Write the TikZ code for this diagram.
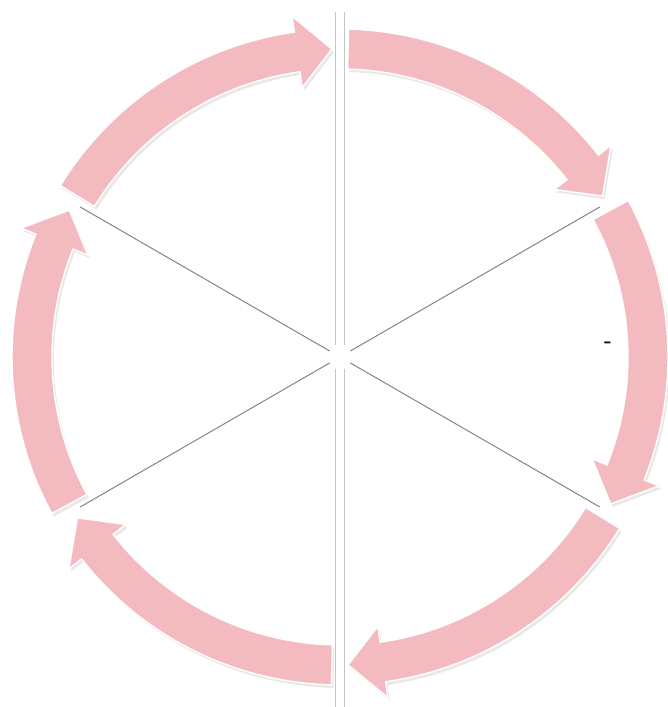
\documentclass[tikz,border=0pt]{standalone}
\usepackage{tikz}
\usetikzlibrary{calc}
\definecolor{ink}      {HTML}{1B1418}
\definecolor{blush}    {HTML}{F3BBC0}
\definecolor{rule}     {HTML}{6E6E6E}
\tikzset{
  % --- ring of stage arrows
  cyc/.style      = {fill=blush, draw=white, line width=1.4pt, line join=miter},
  cycshade/.style = {fill=black!30, opacity=0.3},
  % --- spokes
  spoke/.style    = {draw=rule!85, line width=1pt},
  axisline/.style = {draw=rule!40, line width=0.7pt, double=white, double distance=8pt},
  dashlbl/.style  = {font=\bfseries\huge, text=ink, inner sep=0pt},
}
\begin{document}
\begin{tikzpicture}[x=1pt,y=1pt]
  \useasboundingbox (0,0) rectangle (668,707);
  \coordinate (c) at (340,350);

  % spokes between the six stages
  \foreach \a in {30,150,210,330}
    \draw[spoke] ($(c)+(\a:12)$) -- ($(c)+(\a:300)$);
  \draw[axisline] ($(c)+(0,12)$) -- ($(c)+(0,345)$);
  \draw[axisline] ($(c)+(0,-12)$) -- ($(c)+(0,-350)$);

  % six curved block arrows, clockwise
  \foreach \s in {150,90,30,-30,-90,-150}{
    \pgfmathsetmacro{\ea}{\s-1.5}     % tail
    \pgfmathsetmacro{\eb}{\s-52}      % head base
    \pgfmathsetmacro{\et}{\s-58.5}    % tip
    \path[cycshade] ($(c)+(\ea:328)+(2,-3)$) arc[start angle=\ea, end angle=\eb, radius=328]
      -- ($(c)+(\eb:344)+(2,-3)$) -- ($(c)+(\et:308)+(2,-3)$) -- ($(c)+(\eb:272)+(2,-3)$)
      -- ($(c)+(\eb:288)+(2,-3)$) arc[start angle=\eb, end angle=\ea, radius=288] -- cycle;
    \path[cyc] ($(c)+(\ea:328)$) arc[start angle=\ea, end angle=\eb, radius=328]
      -- ($(c)+(\eb:344)$) -- ($(c)+(\et:308)$) -- ($(c)+(\eb:272)$)
      -- ($(c)+(\eb:288)$) arc[start angle=\eb, end angle=\ea, radius=288] -- cycle;
  }

  \node[dashlbl] (dash) at (608,362) {-};
\end{tikzpicture}
\end{document}
